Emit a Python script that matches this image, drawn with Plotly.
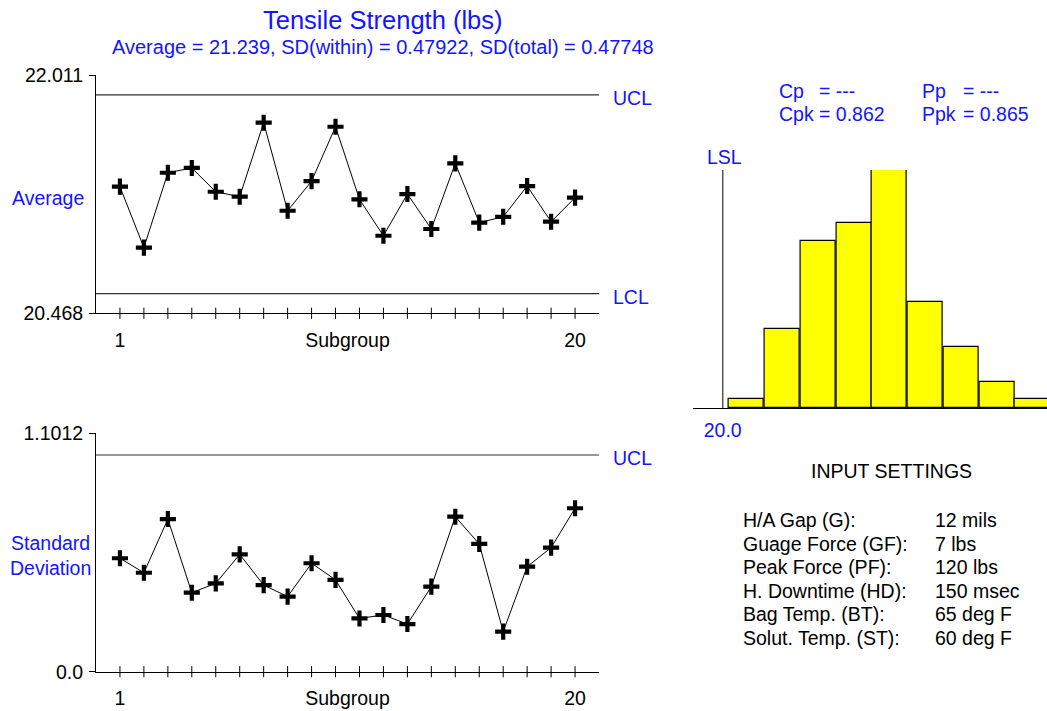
import plotly.graph_objects as go

# ---------------- data ----------------
subgroups = list(range(1, 21))
averages = [21.288, 20.893, 21.378, 21.409, 21.255, 21.223, 21.702, 21.132, 21.324, 21.676,
            21.206, 20.970, 21.240, 21.014, 21.439, 21.055, 21.093, 21.292, 21.061, 21.217]
std_devs = [0.524, 0.457, 0.705, 0.365, 0.408, 0.542, 0.400, 0.347, 0.501, 0.424,
            0.246, 0.262, 0.220, 0.393, 0.716, 0.590, 0.185, 0.485, 0.573, 0.755]
avg_ucl, avg_lcl = 21.882, 20.596
avg_axis = [20.468, 22.011]
avg_ticktext = ["20.468", "22.011"]
sd_ucl = 1.001
sd_axis = [0.0, 1.1012]
sd_ticktext = ["0.0", "1.1012"]
hist_bin_start = [20.05, 20.35, 20.65, 20.95, 21.25, 21.55, 21.85, 22.15, 22.45]
hist_counts = [1, 9, 19, 21, 27, 12, 7, 3, 1]
bin_width = 0.3
lsl = 20.0
hist_xrange = [19.748, 22.721]
title = "Tensile Strength (lbs)"
subtitle = "Average = 21.239, SD(within) = 0.47922, SD(total) = 0.47748"
cap_labels = [["Cp", "= ---"], ["Cpk", "= 0.862"]]
perf_labels = [["Pp", "= ---"], ["Ppk", "= 0.865"]]
settings_names = ["H/A Gap (G):", "Guage Force (GF):", "Peak Force (PF):",
                  "H. Downtime (HD):", "Bag Temp. (BT):", "Solut. Temp. (ST):"]
settings_values = ["12 mils", "7 lbs", "120 lbs", "150 msec", "65 deg F", "60 deg F"]

# ---------------- style ----------------
W, H = 1047, 711
FONT = "Liberation Sans, Arial, sans-serif"
BLUE = "#1414ff"
FS = 19.5


def px(x):
    return x / W


def py(y):
    return 1 - y / H


fig = go.Figure()

# ---- control charts ----
for xa, ya, vals, rng in (("x", "y", averages, avg_axis), ("x2", "y2", std_devs, sd_axis)):
    fig.add_trace(go.Scatter(
        x=subgroups, y=vals, xaxis=xa, yaxis=ya, mode="lines+markers",
        line=dict(color="black", width=1),
        marker=dict(symbol="cross-thin", size=11.5, line=dict(color="black", width=4.2)),
        showlegend=False, hoverinfo="skip"))
    # tick marks crossing the subgroup axis
    fig.add_trace(go.Scatter(
        x=subgroups, y=[rng[0]] * len(subgroups), xaxis=xa, yaxis=ya, mode="markers",
        marker=dict(symbol="line-ns", size=8, line=dict(color="black", width=1)),
        cliponaxis=False, showlegend=False, hoverinfo="skip"))

# ---- histogram ----
fig.add_trace(go.Bar(
    x=hist_bin_start, y=hist_counts, width=bin_width - 0.008, offset=0.004,
    xaxis="x3", yaxis="y3",
    marker=dict(color="#ffff00", line=dict(color="black", width=1.2)),
    showlegend=False, hoverinfo="skip"))

xcommon = dict(range=[0, 21], showgrid=False, zeroline=False, showline=True,
               linecolor="black", linewidth=1, ticks="", tickvals=[1, 10.5, 20],
               ticktext=["1", "Subgroup", "20"], ticklabelstandoff=9,
               tickfont=dict(size=FS, color="black", family=FONT))
ycommon = dict(showgrid=False, zeroline=False, showline=True, linecolor="black", linewidth=1,
               ticks="outside", ticklen=6, tickcolor="black", ticklabelstandoff=2,
               tickfont=dict(size=FS, color="black", family=FONT))

fig.update_layout(
    width=W, height=H, autosize=False,
    margin=dict(l=0, r=0, t=0, b=0, autoexpand=False),
    paper_bgcolor="white", plot_bgcolor="white",
    font=dict(family=FONT, size=FS, color="black"),
    xaxis=dict(domain=[px(96), px(599)], anchor="y", **xcommon),
    yaxis=dict(domain=[py(313.3), py(75)], anchor="x", range=avg_axis,
               tickvals=avg_axis, ticktext=avg_ticktext, **ycommon),
    xaxis2=dict(domain=[px(96), px(599)], anchor="y2", **xcommon),
    yaxis2=dict(domain=[py(671.7), py(433.3)], anchor="x2", range=sd_axis,
                tickvals=sd_axis, ticktext=sd_ticktext, **ycommon),
    xaxis3=dict(domain=[px(692.7), 1.0], anchor="y3", range=hist_xrange,
                showgrid=False, zeroline=False, showline=True, linecolor="black",
                linewidth=1.2, ticks="", tickvals=[lsl], ticktext=[f"{lsl:.1f}"],
                ticklabelstandoff=4, tickfont=dict(color=BLUE, size=FS)),
    yaxis3=dict(domain=[py(408.3), py(170)], anchor="x3", range=[0, max(hist_counts)],
                visible=False),
    bargap=0,
)

shapes = []
annotations = []
for yref, val in (("y", avg_ucl), ("y", avg_lcl), ("y2", sd_ucl)):
    shapes.append(dict(type="line", xref="x domain", yref=yref, x0=0, x1=1, y0=val, y1=val,
                       line=dict(color="#333333", width=1.2)))
shapes.append(dict(type="line", xref="x3", yref="y3", x0=lsl, x1=lsl, y0=0,
                   y1=max(hist_counts), line=dict(color="#555555", width=1.5)))
fig.update_layout(shapes=shapes)


def ann(text, x, y, xanchor="left", color="black", size=FS, yanchor="middle"):
    annotations.append(dict(text=text, x=px(x), y=py(y), xref="paper", yref="paper",
                            xanchor=xanchor, yanchor=yanchor, showarrow=False,
                            font=dict(color=color, size=size, family=FONT)))


ann(title, 383, 20, "center", BLUE, 25.5)
ann(subtitle, 383, 47, "center", BLUE, 20)
for label, xref, yref, val in (("UCL", "x domain", "y", avg_ucl), ("LCL", "x domain", "y", avg_lcl),
                               ("UCL", "x2 domain", "y2", sd_ucl)):
    annotations.append(dict(text=label, x=1.0, xref=xref, xshift=12, y=val, yref=yref,
                            yshift=-3, xanchor="left", showarrow=False,
                            font=dict(color=BLUE, size=FS, family=FONT)))
ann("Average", 48, 198, "center", BLUE)
ann("Standard<br>Deviation", 50, 555, "center", BLUE)
annotations.append(dict(text="LSL", x=lsl, xref="x3", y=max(hist_counts), yref="y3",
                        yanchor="bottom", xanchor="center", showarrow=False, xshift=2,
                        font=dict(color=BLUE, size=FS, family=FONT)))
for i, (lab, val) in enumerate(cap_labels):
    ann(lab, 777, 91 + 22.6 * i, "left", BLUE)
    ann(val, 817, 91 + 22.6 * i, "left", BLUE)
for i, (lab, val) in enumerate(perf_labels):
    ann(lab, 920, 91 + 22.6 * i, "left", BLUE)
    ann(val, 961, 91 + 22.6 * i, "left", BLUE)
ann("INPUT SETTINGS", 891, 471, "center", "black")
for i, (n, v) in enumerate(zip(settings_names, settings_values)):
    ann(n, 741, 520 + 23.6 * i, "left")
    ann(v, 933, 520 + 23.6 * i, "left")

fig.update_layout(annotations=annotations)
fig.write_html("out.html")
